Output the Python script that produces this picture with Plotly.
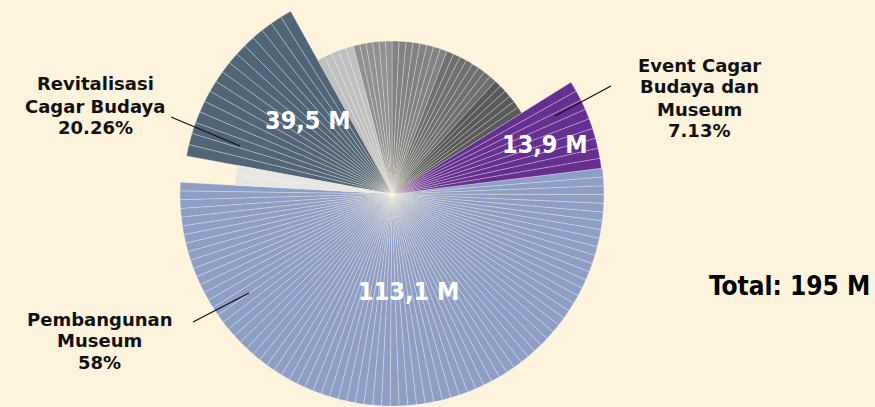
import math
import plotly.graph_objects as go

# ---------------- data ----------------
categories = ["Pembangunan Museum", "Revitalisasi Cagar Budaya", "Event Cagar Budaya dan Museum"]
label_lines = [["Pembangunan", "Museum"], ["Revitalisasi", "Cagar Budaya"], ["Event Cagar", "Budaya dan", "Museum"]]
values_m = [113.1, 39.5, 13.9]   # budget, millions
total_m = 195

# ---------------- style / layout ----------------
W, H = 875, 407
CX, CY = 392, 194          # rosette centre (px)
BG = "#fef3dc"
STRIPE = dict(color="rgba(255,248,232,0.6)", width=0.5)

# rosette segments (angles: degrees CCW from east), radius in px, colour, stripes, polar subplot
segments = [
    dict(cat=0, a0=176.8, a1=367.0, r=212, color="#8e9fc7", n=80, sp="polar"),
    dict(cat=2, a0=7.0, a1=32.0, r=211, color="#652f92", n=9, sp="polar"),
    dict(cat=None, a0=32.0, a1=47.5, r=153, color="#595a5c", n=6, sp="polar2"),
    dict(cat=None, a0=47.5, a1=69.0, r=153, color="#6e6f71", n=8, sp="polar2"),
    dict(cat=None, a0=69.0, a1=90.0, r=153, color="#818284", n=8, sp="polar2"),
    dict(cat=None, a0=90.0, a1=104.7, r=153, color="#8f9093", n=6, sp="polar2"),
    dict(cat=None, a0=104.7, a1=119.0, r=153, color="#bfc0c1", n=5, sp="polar2"),
    dict(cat=1, a0=119.0, a1=169.5, r=209, color="#506577", n=16, sp="polar3"),
    dict(cat=None, a0=169.5, a1=176.8, r=157, color="#e6e6e5", n=2, sp="polar3"),
]
# each polar subplot: visible sector and frame radius (px); all share the same centre
subplots = {
    "polar": dict(sector=[176.6, 392.3], R=212.5),
    "polar2": dict(sector=[31.7, 119.3], R=154.0),
    "polar3": dict(sector=[118.7, 177.0], R=210.0),
}
value_pos = {0: (408, 291), 1: (308, 120), 2: (545, 144)}           # px centres of value labels
name_pos = {0: (99, [319, 340, 362]), 1: (95, [84, 106, 127]), 2: (699, [65, 87, 109, 131])}
leaders = {0: ((193, 322), (249, 293)), 1: ((171, 117), (240, 146)), 2: ((611, 86), (555, 116))}


def fx(x):
    return x / W


def fy(y):
    return 1 - y / H


def sector_bbox(sector):
    s0, s1 = sector
    arc = s1 - s0
    a0 = s0 % 360
    a1 = a0 + arc
    ax0, ay0 = math.cos(math.radians(a0)), math.sin(math.radians(a0))
    ax1, ay1 = math.cos(math.radians(a1)), math.sin(math.radians(a1))
    if (a0 <= 90 <= a1) or (a0 > 90 and a1 >= 450):
        y1 = 1
    elif ay0 <= 0 and ay1 <= 0:
        y1 = 0
    else:
        y1 = max(ay0, ay1)
    if (a0 <= 180 <= a1) or (a0 > 180 and a1 >= 540):
        x0 = -1
    elif ax0 >= 0 and ax1 >= 0:
        x0 = 0
    else:
        x0 = min(ax0, ax1)
    if (a0 <= 270 <= a1) or (a0 > 270 and a1 >= 630):
        y0 = -1
    elif ay0 >= 0 and ay1 >= 0:
        y0 = 0
    else:
        y0 = min(ay0, ay1)
    if a1 >= 360:
        x1 = 1
    elif ax0 <= 0 and ax1 <= 0:
        x1 = 0
    else:
        x1 = max(ax0, ax1)
    return x0, y0, x1, y1


fig = go.Figure()
for seg in segments:
    n = seg["n"]
    w = (seg["a1"] - seg["a0"]) / n
    thetas = [seg["a0"] + w * (i + 0.5) for i in range(n)]
    name = categories[seg["cat"]] if seg["cat"] is not None else "Lainnya"
    fig.add_trace(go.Barpolar(
        r=[seg["r"]] * n, theta=thetas, width=[w] * n, name=name, subplot=seg["sp"],
        marker=dict(color=seg["color"], line=STRIPE),
        hoverinfo="name", showlegend=False))

# centre highlight
fig.add_trace(go.Scatterpolar(r=[0], theta=[0], mode="markers", cliponaxis=False, subplot="polar",
                              marker=dict(size=5, color="#fffbe0"), hoverinfo="skip", showlegend=False))

polar_layouts = {}
for key, sp in subplots.items():
    x0, y0, x1, y1 = sector_bbox(sp["sector"])
    R = sp["R"]
    left, right = CX + R * x0, CX + R * x1
    top, bottom = CY - R * y1, CY - R * y0
    polar_layouts[key] = dict(
        domain=dict(x=[fx(left), fx(right)], y=[fy(bottom), fy(top)]),
        sector=sp["sector"],
        bgcolor="rgba(0,0,0,0)",
        radialaxis=dict(range=[0, R], visible=False, showgrid=False, showline=False, showticklabels=False),
        angularaxis=dict(direction="counterclockwise", rotation=0, visible=False, showgrid=False,
                         showline=False, showticklabels=False),
    )

annotations = []
cond = "DejaVu Sans Condensed, DejaVu Sans, sans-serif"
for i, v in enumerate(values_m):
    txt = f"{v:.1f}".replace(".", ",") + " M"
    x, y = value_pos[i]
    annotations.append(dict(x=fx(x), y=fy(y), xref="paper", yref="paper", text=txt, showarrow=False,
                            xanchor="center", yanchor="middle",
                            font=dict(family=cond, size=25, color="white", weight="bold")))
    pct = f"{v / total_m * 100:.2f}".rstrip("0").rstrip(".") + "%"
    lines = label_lines[i] + [pct]
    x, ys = name_pos[i]
    for line, y in zip(lines, ys):
        annotations.append(dict(x=fx(x), y=fy(y), xref="paper", yref="paper", text=line,
                                showarrow=False, xanchor="center", yanchor="middle",
                                font=dict(family="DejaVu Sans, sans-serif", size=18, color="#111111",
                                          weight="bold")))

annotations.append(dict(x=fx(872), y=fy(286), xref="paper", yref="paper", text=f"Total: {total_m} M",
                        showarrow=False, xanchor="right", yanchor="middle",
                        font=dict(family=cond, size=26, color="#000000", weight="bold")))

shapes = []
for i, ((x0, y0), (x1, y1)) in leaders.items():
    shapes.append(dict(type="line", xref="paper", yref="paper", x0=fx(x0), y0=fy(y0), x1=fx(x1), y1=fy(y1),
                       line=dict(color="#111111", width=1.3)))

fig.update_layout(
    width=W, height=H, margin=dict(l=0, r=0, t=0, b=0),
    paper_bgcolor=BG, plot_bgcolor=BG,
    annotations=annotations, shapes=shapes, showlegend=False,
    **polar_layouts,
)

fig.write_html("out.html")
